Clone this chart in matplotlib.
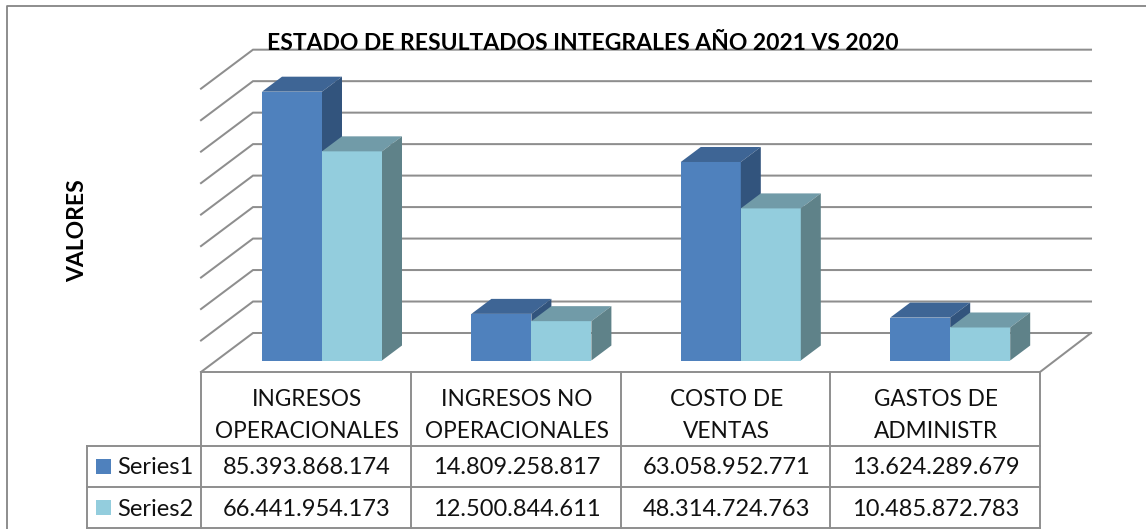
import matplotlib
matplotlib.use("Agg")
import matplotlib.pyplot as plt
from matplotlib.patches import Polygon, Rectangle

categories = ["INGRESOS\nOPERACIONALES", "INGRESOS NO\nOPERACIONALES", "COSTO DE\nVENTAS", "GASTOS DE\nADMINISTR"]
series_names = ["Series1", "Series2"]
series1 = [85393868174, 14809258817, 63058952771, 13624289679]
series2 = [66441954173, 12500844611, 48314724763, 10485872783]
grid_values = [i * 10_000_000_000 for i in range(10)]
title = "ESTADO DE RESULTADOS INTEGRALES AÑO 2021 VS 2020"
ylabel = "VALORES"

W, H = 1146, 529
X0, XS = 322.0, 209.4          # px of category centre 0, px per category
Y0, YS = 360.5, 3.148e-9       # px of floor, px per unit value

fig = plt.figure(figsize=(W / 100, H / 100), dpi=100)
ax = fig.add_axes([0, 0, 1, 1])
ax.set_xlim((0 - X0) / XS, (W - X0) / XS)
ax.set_ylim((Y0 - H) / YS, Y0 / YS)
ax.axis("off")

def px(x, y):
    return (x - X0) / XS, (Y0 - y) / YS

dx, dy = 20 / XS, 15 / YS
bw = 60 / XS
wall_dx, wall_dy = 52, 39
GRID = "#8E8E8E"
FONT = "Lato"

# frame
ax.plot(*zip(px(7, H), px(7, 5.5), px(W, 5.5)), color="#858585", lw=1.3, zorder=1)

# walls / grid
floor_y = 372
for v in grid_values:
    yb = Y0 - v * YS - 27.5
    ax.plot(*zip(px(201, yb + wall_dy), px(201 + wall_dx, yb), px(1091, yb)),
            color=GRID, lw=1.45, zorder=1, solid_joinstyle="miter")
ax.plot(*zip(px(1040, floor_y), px(1091, 333)), color=GRID, lw=1.45, zorder=1)

# bars
styles = [("#4F81BD", "#3E6595", "#32547D"), ("#93CDDD", "#719BA8", "#5F8289")]
for si, vals in enumerate([series1, series2]):
    front, top, side = styles[si]
    off = (si - 0.5) * bw
    for i, v in enumerate(vals):
        xc = i + off
        ax.bar(xc, v, width=bw, color=front, linewidth=0, zorder=3 + si)
        l, r = xc - bw / 2, xc + bw / 2
        ax.add_patch(Polygon([(l, v), (l + dx, v + dy), (r + dx, v + dy), (r, v)],
                             facecolor=top, linewidth=0, zorder=3 + si))
        ax.add_patch(Polygon([(r, 0), (r + dx, dy), (r + dx, v + dy), (r, v)],
                             facecolor=side, linewidth=0, zorder=3 + si))

# table
col_x = [201 + 209.75 * i for i in range(5)]
rows_y = [372, 445.7, 487, 528]
TL = "#8E8E8E"
def line(x1, y1, x2, y2):
    ax.plot(*zip(px(x1, y1), px(x2, y2)), color=TL, lw=1.4, zorder=5, solid_capstyle="projecting")
line(201, rows_y[0], 1040, rows_y[0])
line(87, rows_y[1], 1040, rows_y[1])
line(87, rows_y[2], 1040, rows_y[2])
line(87, rows_y[3], 1040, rows_y[3])
line(87, rows_y[1], 87, rows_y[3])
for x in col_x:
    line(x, rows_y[0], x, rows_y[3])

FS = 16.3
FSN = 17
for i, c in enumerate(categories):
    cx = (col_x[i] + col_x[i + 1]) / 2 + 1
    a, b = c.split("\n")
    ax.text(*px(cx, 399), a, ha="center", va="center", fontsize=FS, family=FONT, color="#111111", zorder=6)
    ax.text(*px(cx, 432), b, ha="center", va="center", fontsize=FS, family=FONT, color="#111111", zorder=6)
    for vals, y in ((series1, 468), (series2, 509)):
        ax.text(*px(cx, y), f"{vals[i]:,}".replace(",", "."), ha="center", va="center",
                fontsize=FSN, family=FONT, color="#111111", zorder=6)

for name, y, col in zip(series_names, (466, 507), ("#4F81BD", "#93CDDD")):
    x1, y1 = px(96, y + 7.5)
    x2, y2 = px(111, y - 7.5)
    ax.add_patch(Rectangle((x1, y1), x2 - x1, y2 - y1, facecolor=col, linewidth=0, zorder=6))
    ax.text(*px(117, y + 2), name, ha="left", va="center", fontsize=FSN, family=FONT, color="#111111", zorder=6)

ax.text(*px(583, 43), title, ha="center", va="center", fontsize=16.5, fontweight="bold",
        family=FONT, color="black", zorder=7)
ax.text(*px(78, 231), ylabel, ha="center", va="center", rotation=90, fontsize=16.5,
        fontweight="bold", family=FONT, color="black", zorder=7)

fig.savefig("out.png", dpi=100)
